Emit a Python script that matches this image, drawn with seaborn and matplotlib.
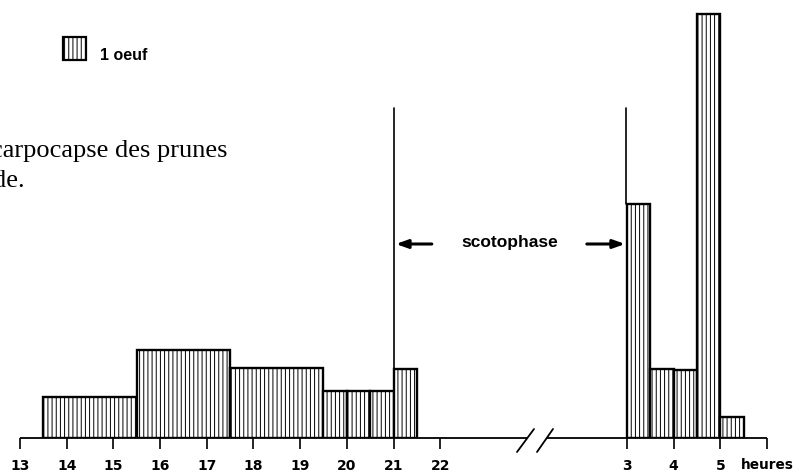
import matplotlib
matplotlib.use("Agg")
import matplotlib.pyplot as plt
import seaborn as sns
import numpy as np
import pandas as pd
from matplotlib.patches import Rectangle

# ---- data (eggs per half-hour) ----
day_edges = [13.5, 15.5, 17.5, 19.5, 20.0, 20.5, 21.0, 21.5]
day_values = [1.75, 3.75, 3.0, 2.0, 2.0, 2.0, 2.95]
night_edges = [3.0, 3.5, 4.0, 4.5, 5.0, 5.5]
night_values = [10.0, 2.95, 2.9, 18.1, 0.9]
day_ticks = [13, 14, 15, 16, 17, 18, 19, 20, 21, 22]
night_ticks = [3, 4, 5, 6]
night_labels = ["3", "4", "5", ""]
NIGHT_OFFSET = 23  # hour 3 of the next day drawn 4 h after 22 h (broken axis)

sns.set_style("white")
plt.rcParams["hatch.linewidth"] = 0.7
plt.rcParams["hatch.color"] = "#222222"
plt.rcParams["text.color"] = "black"
plt.rcParams["xtick.color"] = "black"

W, H = 801, 473
fig = plt.figure(figsize=(W / 100, H / 100), dpi=100)
base_px = 438
ax = fig.add_axes([0, (H - base_px) / H, 1, base_px / H])

px_per_h = 46.69
unit_px = 23.4
x_left = 13 - 20 / px_per_h
x_right = 13 + (W - 20) / px_per_h

def centers(edges):
    e = np.asarray(edges)
    return (e[:-1] + e[1:]) / 2

night_pos_edges = [e + NIGHT_OFFSET for e in night_edges]
df_day = pd.DataFrame({"pos": centers(day_edges), "eggs": day_values})
df_night = pd.DataFrame({"pos": centers(night_pos_edges), "eggs": night_values})

bar_kw = dict(stat="count", element="bars", fill=True, color="white",
              edgecolor="black", linewidth=1.7, alpha=1, hatch="||||")
sns.histplot(data=df_day, x="pos", weights="eggs", bins=day_edges, ax=ax, **bar_kw)
sns.histplot(data=df_night, x="pos", weights="eggs", bins=night_pos_edges, ax=ax, **bar_kw)

ax.set_xlim(x_left, x_right)
ax.set_ylim(0, base_px / unit_px)
ax.set_xlabel("")
ax.set_ylabel("")
for s in ax.spines.values():
    s.set_visible(False)
ax.set_yticks([])

# broken baseline
brk1 = 13 + (527 - 20) / px_per_h
brk2 = 13 + (547 - 20) / px_per_h
ax.plot([13, brk1], [0, 0], color="black", lw=1.3, clip_on=False, solid_capstyle="butt")
ax.plot([brk2, 29], [0, 0], color="black", lw=1.3, clip_on=False, solid_capstyle="butt")
for x0, x1 in [(517, 534), (537, 553)]:
    ax.plot([13 + (x0 - 20) / px_per_h, 13 + (x1 - 20) / px_per_h],
            [-(452 - base_px) / unit_px, (base_px - 429) / unit_px],
            color="black", lw=1.3, clip_on=False)

ticks = day_ticks + [t + NIGHT_OFFSET for t in night_ticks]
labels = [str(t) for t in day_ticks] + night_labels
ax.set_xticks(ticks)
ax.set_xticklabels(labels, fontfamily="DejaVu Sans", fontweight="bold", fontsize=10)
ax.tick_params(axis="x", bottom=True, direction="out", length=8, width=1.2,
               color="black", labelcolor="black", pad=7)

# scotophase markers
top_line = (base_px - 108) / unit_px
ax.plot([21, 21], [0, top_line], color="black", lw=1.2)
ax.plot([3 + NIGHT_OFFSET - 0.02, 3 + NIGHT_OFFSET - 0.02], [night_values[0], top_line],
        color="black", lw=1.2)
arr_y = (base_px - 244) / unit_px
ax.annotate("", xy=(21.05, arr_y), xytext=(21.82, arr_y),
            arrowprops=dict(arrowstyle="-|>,head_length=0.7,head_width=0.25",
                            color="black", lw=2.2, shrinkA=0, shrinkB=0))
ax.annotate("", xy=(25.96, arr_y), xytext=(25.14, arr_y),
            arrowprops=dict(arrowstyle="-|>,head_length=0.7,head_width=0.25",
                            color="black", lw=2.2, shrinkA=0, shrinkB=0))
ax.text(13 + (510 - 20) / px_per_h, (base_px - 247) / unit_px, "scotophase",
        ha="center", va="baseline", fontfamily="Liberation Sans",
        fontweight="bold", fontsize=12.5)

# legend key
ax.add_patch(Rectangle((13 + 43 / px_per_h, (base_px - 60) / unit_px), 0.49, 0.98,
                       facecolor="white", edgecolor="black", lw=1.6, hatch="||||"))
ax.text(13 + 80 / px_per_h, (base_px - 60) / unit_px, "1 oeuf", ha="left",
        va="baseline", fontfamily="Liberation Sans", fontweight="bold", fontsize=11.5)

# axis unit label
fig.text(741 / W, 1 - 469 / H, "heures", ha="left", va="baseline",
         fontfamily="DejaVu Sans", fontweight="bold", fontsize=9.8)

# caption fragment (cut by the left edge, as in the reference)
fig.text(228 / W, 1 - 157 / H, "carpocapse des prunes", ha="right", va="baseline",
         fontfamily="Liberation Serif", fontsize=19)
fig.text(25 / W, 1 - 187 / H, "de.", ha="right", va="baseline",
         fontfamily="Liberation Serif", fontsize=19)

fig.savefig("out.png", dpi=100)
